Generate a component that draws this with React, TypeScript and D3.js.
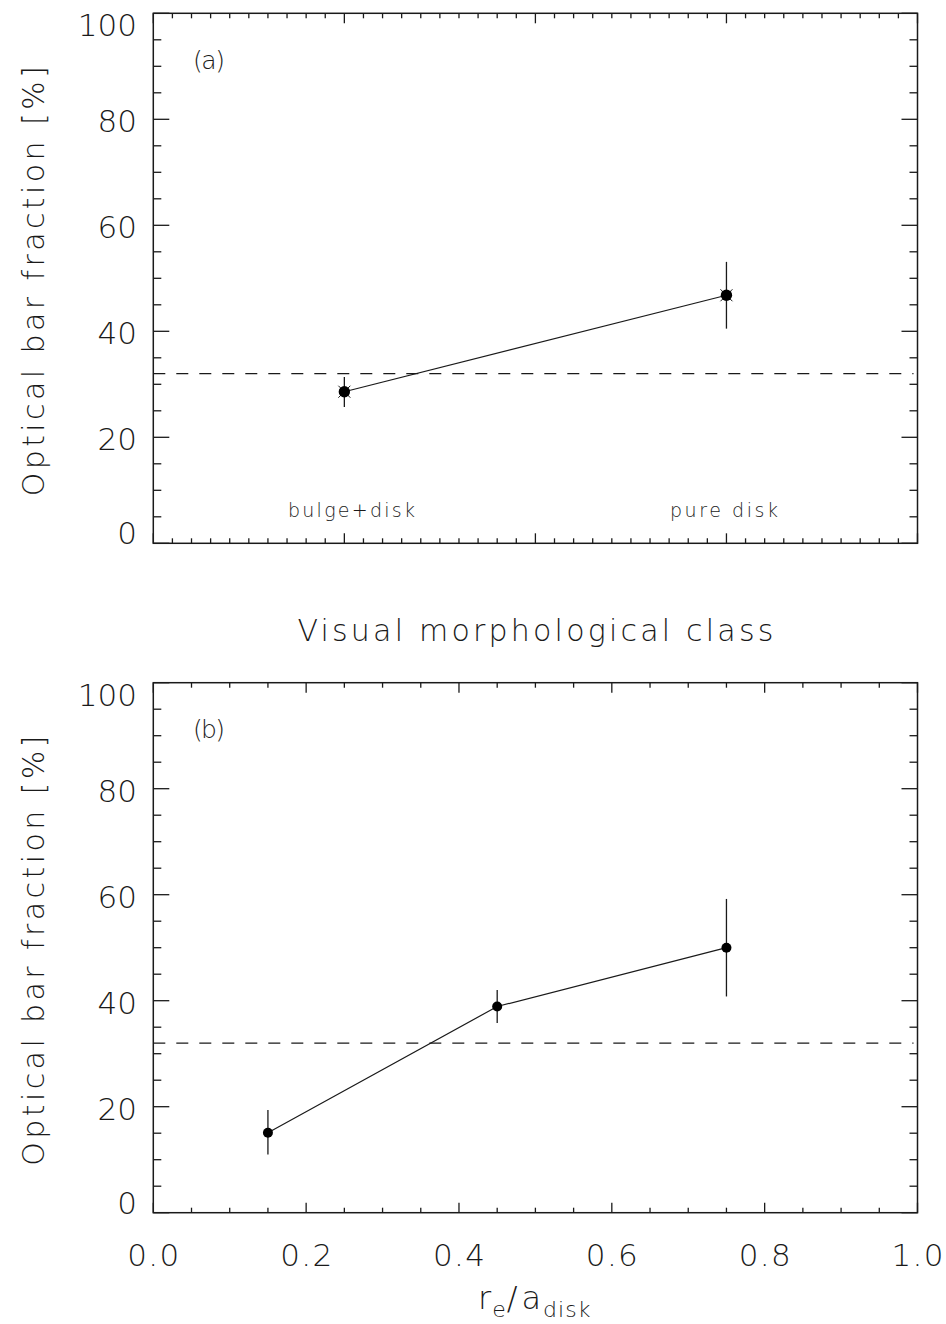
import React from "react";
import * as d3 from "d3";

const W = 946;
const H = 1324;

// ---- data ----
const classNames = ["bulge+disk", "pure disk"];
const classX = [1, 3];
const classFrac = [28.6, 46.8];
const classErrLo = [25.7, 40.5];
const classErrHi = [31.4, 53.1];

const ratioX = [0.15, 0.45, 0.75];
const ratioFrac = [15.1, 38.9, 50.0];
const ratioErrLo = [11.0, 35.8, 40.8];
const ratioErrHi = [19.4, 42.0, 59.2];

const refLevel = 32;
const yMajorTicks = [0, 20, 40, 60, 80, 100];
const bXTickLabels = ["0.0", "0.2", "0.4", "0.6", "0.8", "1.0"];

const FONT = "'DejaVu Sans', Inter, sans-serif";
const FW = 200;
const AX = "#1a1a1a";

const left = 153.3;
const right = 917.5;
const panelA = { top: 13.3, bottom: 543.3 };
const panelB = { top: 682.7, bottom: 1212.7 };

function Frame({ top, bottom, x, xMinor, xMajor, y }: any) {
  const yMinor = d3.range(0, 100.01, 5);
  const els: any[] = [];
  yMinor.forEach((v, i) => {
    const isMaj = v % 20 === 0;
    const len = isMaj ? 16 : 8;
    const yy = y(v);
    els.push(<line key={"yl" + i} x1={left} x2={left + len} y1={yy} y2={yy} stroke={AX} strokeWidth={1.3} />);
    els.push(<line key={"yr" + i} x1={right} x2={right - len} y1={yy} y2={yy} stroke={AX} strokeWidth={1.3} />);
  });
  xMinor.forEach((v: number, i: number) => {
    const isMaj = xMajor.some((m: number) => Math.abs(m - v) < 1e-6);
    const len = isMaj ? 10 : 5;
    const xx = x(v);
    els.push(<line key={"xb" + i} x1={xx} x2={xx} y1={bottom} y2={bottom - len} stroke={AX} strokeWidth={1.3} />);
    els.push(<line key={"xt" + i} x1={xx} x2={xx} y1={top} y2={top + len} stroke={AX} strokeWidth={1.3} />);
  });
  yMajorTicks.forEach((v, i) => {
    let yy = y(v) + 2;
    if (v === 0) yy = bottom - 10;
    if (v === 100) yy = top + 12;
    els.push(
      <text key={"yt" + i} x={137} y={yy} textAnchor="end" dominantBaseline="central"
        fontFamily={FONT} fontWeight={FW} fontSize={31} fill={AX}>{v}</text>
    );
  });
  els.push(<rect key="frame" x={left} y={top} width={right - left} height={bottom - top} fill="none" stroke={AX} strokeWidth={1.5} />);
  return <g>{els}</g>;
}

function YLabel({ top, bottom }: any) {
  const cy = (top + bottom) / 2 + 3;
  return (
    <text transform={`translate(44,${cy}) rotate(-90)`} textAnchor="middle" fontFamily={FONT}
      fontWeight={FW} fontSize={30} fill={AX} textLength={430} lengthAdjust="spacing">
      Optical bar fraction [%]
    </text>
  );
}

export default function App() {
  const xA = d3.scaleLinear().domain([0, 4]).range([left, right]);
  const yA = d3.scaleLinear().domain([0, 100]).range([panelA.bottom, panelA.top]);
  const xB = d3.scaleLinear().domain([0, 1]).range([left, right]);
  const yB = d3.scaleLinear().domain([0, 100]).range([panelB.bottom, panelB.top]);

  const lineA = d3.line<number>().x((_, i) => xA(classX[i])).y((d) => yA(d));
  const lineB = d3.line<number>().x((_, i) => xB(ratioX[i])).y((d) => yB(d));

  const xMinorA = d3.range(0, 4.001, 0.1).map((v) => +v.toFixed(2));
  const xMinorB = d3.range(0, 1.001, 0.05).map((v) => +v.toFixed(2));

  return (
    <svg width={W} height={H} style={{ position: "absolute", left: 0, top: 0, background: "#fff" }}>
      <rect x={0} y={0} width={W} height={H} fill="#fff" />
      {/* Panel A */}
      <Frame top={panelA.top} bottom={panelA.bottom} x={xA} xMinor={xMinorA} xMajor={[0, 1, 2, 3, 4]} y={yA} />
      <line x1={left} x2={right - 4} y1={yA(refLevel)} y2={yA(refLevel)} stroke={AX} strokeWidth={1.3} strokeDasharray="12 11" />
      <path d={lineA(classFrac) || ""} fill="none" stroke={AX} strokeWidth={1.2} />
      {classFrac.map((v, i) => (
        <g key={"pa" + i}>
          <line x1={xA(classX[i])} x2={xA(classX[i])} y1={yA(classErrLo[i])} y2={yA(classErrHi[i])} stroke={AX} strokeWidth={1.3} />
          <line x1={xA(classX[i]) - 6} x2={xA(classX[i]) + 6} y1={yA(v) - 6} y2={yA(v) + 6} stroke={AX} strokeWidth={1} />
          <line x1={xA(classX[i]) - 6} x2={xA(classX[i]) + 6} y1={yA(v) + 6} y2={yA(v) - 6} stroke={AX} strokeWidth={1} />
          <circle cx={xA(classX[i])} cy={yA(v)} r={5.7} fill="#000" />
        </g>
      ))}
      <text x={351.5} y={517} textAnchor="middle" fontFamily={FONT} fontWeight={FW} fontSize={19} fill={AX}
        textLength={127} lengthAdjust="spacing">{classNames[0]}</text>
      <text x={724} y={517} textAnchor="middle" fontFamily={FONT} fontWeight={FW} fontSize={19} fill={AX}
        textLength={108} lengthAdjust="spacing">{classNames[1]}</text>
      <text x={209} y={69} textAnchor="middle" fontFamily={FONT} fontWeight={FW} fontSize={25} fill={AX}
        textLength={32} lengthAdjust="spacing">(a)</text>
      <YLabel top={panelA.top} bottom={panelA.bottom} />
      <text x={(left + right) / 2} y={641} textAnchor="middle" fontFamily={FONT} fontWeight={FW} fontSize={30}
        fill={AX} textLength={476} lengthAdjust="spacing">Visual morphological class</text>

      {/* Panel B */}
      <Frame top={panelB.top} bottom={panelB.bottom} x={xB} xMinor={xMinorB} xMajor={[0, 0.2, 0.4, 0.6, 0.8, 1]} y={yB} />
      <line x1={left} x2={right - 4} y1={yB(refLevel)} y2={yB(refLevel)} stroke={AX} strokeWidth={1.3} strokeDasharray="12 11" />
      <path d={lineB(ratioFrac) || ""} fill="none" stroke={AX} strokeWidth={1.2} />
      {ratioFrac.map((v, i) => (
        <g key={"pb" + i}>
          <line x1={xB(ratioX[i])} x2={xB(ratioX[i])} y1={yB(ratioErrLo[i])} y2={yB(ratioErrHi[i])} stroke={AX} strokeWidth={1.3} />
          <circle cx={xB(ratioX[i])} cy={yB(v)} r={5} fill="#000" />
        </g>
      ))}
      {bXTickLabels.map((t, i) => (
        <text key={"bx" + i} x={xB(+t)} y={1265.5} textAnchor="middle" fontFamily={FONT} fontWeight={FW}
          fontSize={31} fill={AX} textLength={52} lengthAdjust="spacing">{t}</text>
      ))}
      <text x={209} y={738} textAnchor="middle" fontFamily={FONT} fontWeight={FW} fontSize={25} fill={AX}
        textLength={32} lengthAdjust="spacing">(b)</text>
      <YLabel top={panelB.top} bottom={panelB.bottom} />
      <text x={478} y={1309} fontFamily={FONT} fontWeight={FW} fontSize={32} fill={AX}>
        <tspan>r</tspan>
        <tspan fontSize={22} dy={8} dx={1}>e</tspan>
        <tspan dy={-8} dx={1}>/</tspan>
        <tspan dx={4}>a</tspan>
        <tspan fontSize={22} dy={8} dx={2} letterSpacing={1}>disk</tspan>
      </text>
    </svg>
  );
}
